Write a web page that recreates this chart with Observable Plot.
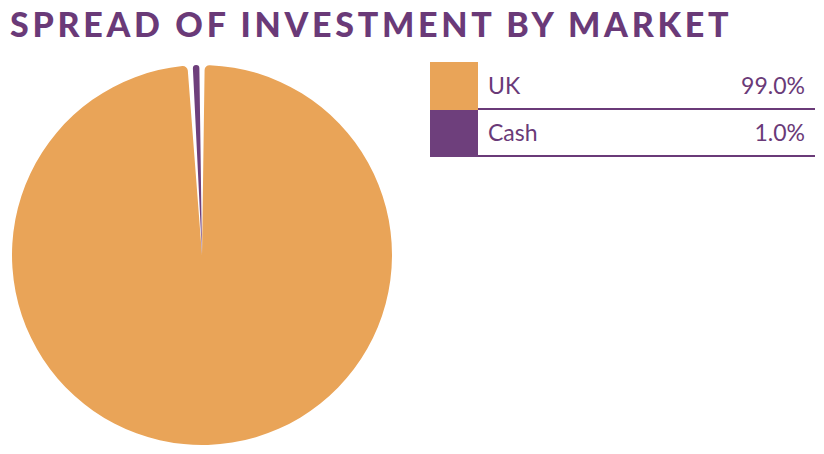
<!DOCTYPE html>
<html>
<head>
<meta charset="utf-8">
<script src="https://cdn.jsdelivr.net/npm/d3@7"></script>
<script src="https://cdn.jsdelivr.net/npm/@observablehq/plot@0.6"></script>
<style>
  html, body { margin: 0; padding: 0; background: #fff; }
  body { width: 824px; height: 454px; position: relative; overflow: hidden; font-family: Lato, "Open Sans", sans-serif; }
  #title { position: absolute; left: 10px; top: 4px; font-size: 34px; font-weight: 900; letter-spacing: 3.7px; color: #6a3a78; white-space: nowrap; line-height: 40px; }
  #chart { position: absolute; left: 0; top: 60px; }
  #legend { position: absolute; left: 430px; top: 62px; width: 385px; }
  .row { display: flex; height: 47.5px; position: relative; }
  .sw { width: 48px; height: 100%; }
  .lab { flex: 1; display: flex; align-items: center; justify-content: space-between; padding-left: 10px; padding-right: 10px; font-size: 23px; font-weight: 400; color: #6a3a78; border-bottom: 2px solid #6a3a78; }
</style>
</head>
<body>
<div id="title">SPREAD OF INVESTMENT BY MARKET</div>
<div id="chart"></div>
<div id="legend"></div>
<script>
const labels = ["UK", "Cash"];
const values = [99.0, 1.0];
const colors = ["#e9a458", "#6e3f7c"];
const valueLabels = ["99.0%", "1.0%"];

const data = labels.map((l, i) => ({label: l, value: values[i]}));

function pieMark(index, scales, vals, dimensions, context) {
  const cx = 202, cy = 195, r = 190;
  const arcs = d3.pie().sort(null).value(d => d.value)(data);
  const arc = d3.arc().innerRadius(0).outerRadius(r).padAngle(0.028).cornerRadius(5);
  const g = d3.create("svg:g").attr("transform", `translate(${cx},${cy})`);
  g.selectAll("path").data(arcs).join("path")
    .attr("d", arc)
    .attr("fill", (d, i) => colors[i]);
  return g.node();
}

const plot = Plot.plot({
  width: 410,
  height: 394,
  margin: 0,
  x: {axis: null},
  y: {axis: null},
  marks: [pieMark]
});
document.getElementById("chart").appendChild(plot);

const legend = document.getElementById("legend");
labels.forEach((l, i) => {
  const row = document.createElement("div");
  row.className = "row";
  row.innerHTML = `<div class="sw" style="background:${colors[i]}"></div><div class="lab"><span>${l}</span><span>${valueLabels[i]}</span></div>`;
  legend.appendChild(row);
});
</script>
</body>
</html>
